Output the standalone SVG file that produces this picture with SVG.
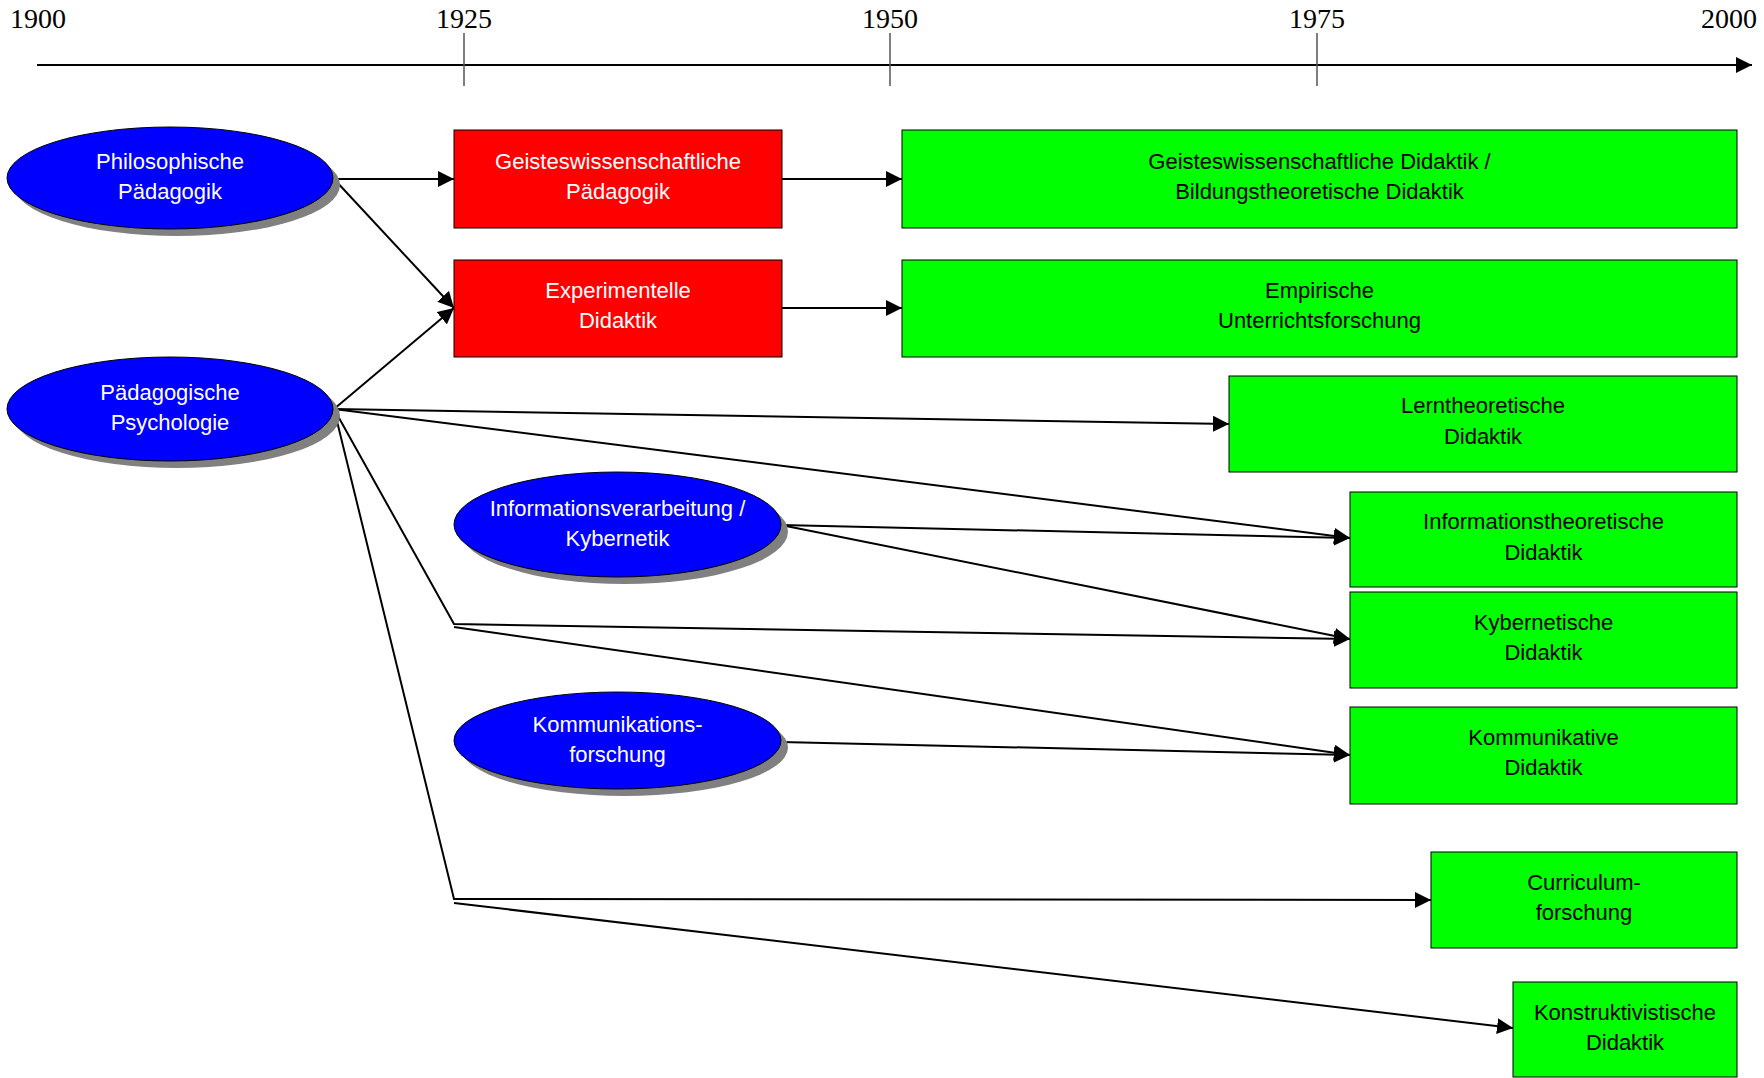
<svg xmlns="http://www.w3.org/2000/svg" width="1764" height="1078" viewBox="0 0 1764 1078">
<defs>
<marker id="arr" markerUnits="userSpaceOnUse" markerWidth="16" markerHeight="16" refX="16" refY="8" orient="auto">
<path d="M0,0 L16,8 L0,16 z" fill="#000"/>
</marker>
<style>
.yr{font-family:"Liberation Serif","Times New Roman",serif;font-size:28px;fill:#000}
.tick{stroke:#555;stroke-width:1.5}
.ell{fill:#0000ff;stroke:#000;stroke-width:1}
.sh{fill:#808080}
.red{fill:#ff0000;stroke:#000;stroke-width:1}
.grn{fill:#00ff00;stroke:#000;stroke-width:1}
.tw{font-family:"Liberation Sans",Arial,sans-serif;font-size:22px;fill:#fff;text-anchor:middle}
.tb{font-family:"Liberation Sans",Arial,sans-serif;font-size:22px;fill:#000;text-anchor:middle}
.c{stroke:#000;stroke-width:2;fill:none}
.ca{stroke:#000;stroke-width:2;fill:none;marker-end:url(#arr)}
</style>
</defs>
<rect width="1764" height="1078" fill="#fff"/>

<g id="timeline">
<line x1="37" y1="65" x2="1752" y2="65" class="ca"/>
<line x1="464" y1="33" x2="464" y2="86" class="tick"/>
<line x1="890" y1="33" x2="890" y2="86" class="tick"/>
<line x1="1317" y1="33" x2="1317" y2="86" class="tick"/>
<text x="10" y="28" class="yr">1900</text>
<text x="464" y="28" class="yr" text-anchor="middle">1925</text>
<text x="890" y="28" class="yr" text-anchor="middle">1950</text>
<text x="1317" y="28" class="yr" text-anchor="middle">1975</text>
<text x="1757" y="28" class="yr" text-anchor="end">2000</text>
</g>

<g id="connectors">
<line x1="334" y1="179" x2="454" y2="179" class="ca"/>
<line x1="334" y1="179" x2="454" y2="308" class="ca"/>
<line x1="334" y1="409" x2="454" y2="308" class="ca"/>
<line x1="782" y1="179" x2="902" y2="179" class="ca"/>
<line x1="782" y1="308" x2="902" y2="308" class="ca"/>
<line x1="334" y1="409" x2="1229" y2="424" class="ca"/>
<line x1="334" y1="409" x2="1350" y2="538" class="ca"/>
<line x1="781" y1="525" x2="1350" y2="538" class="ca"/>
<line x1="781" y1="525" x2="1350" y2="639" class="ca"/>
<polyline points="334,409 454,624 1350,639" class="ca"/>
<line x1="454" y1="627" x2="1350" y2="755" class="ca"/>
<line x1="781" y1="742" x2="1350" y2="755" class="ca"/>
<polyline points="334,409 454,899 1431,900" class="ca"/>
<line x1="454" y1="903" x2="1513" y2="1028" class="ca"/>
</g>

<g id="philosophische-paedagogik">
<ellipse cx="177" cy="185" rx="163" ry="51" class="sh"/>
<ellipse cx="170" cy="178" rx="163" ry="51" class="ell"/>
<text x="170" y="169" class="tw">Philosophische</text>
<text x="170" y="199" class="tw">Pädagogik</text>
</g>

<g id="paedagogische-psychologie">
<ellipse cx="177" cy="416" rx="163" ry="52" class="sh"/>
<ellipse cx="170" cy="409" rx="163" ry="52" class="ell"/>
<text x="170" y="400" class="tw">Pädagogische</text>
<text x="170" y="430" class="tw">Psychologie</text>
</g>

<g id="informationsverarbeitung">
<ellipse cx="624.5" cy="531.5" rx="163.5" ry="52.5" class="sh"/>
<ellipse cx="617.5" cy="524.5" rx="163.5" ry="52.5" class="ell"/>
<text x="617.5" y="516" class="tw">Informationsverarbeitung /</text>
<text x="617.5" y="546" class="tw">Kybernetik</text>
</g>

<g id="kommunikationsforschung">
<ellipse cx="624.5" cy="747.5" rx="163.5" ry="48.5" class="sh"/>
<ellipse cx="617.5" cy="740.5" rx="163.5" ry="48.5" class="ell"/>
<text x="617.5" y="731.5" class="tw">Kommunikations-</text>
<text x="617.5" y="761.5" class="tw">forschung</text>
</g>

<g id="geisteswiss-paedagogik">
<rect x="454" y="130" width="328" height="98" class="red"/>
<text x="618" y="169" class="tw">Geisteswissenschaftliche</text>
<text x="618" y="199" class="tw">Pädagogik</text>
</g>

<g id="experimentelle-didaktik">
<rect x="454" y="260" width="328" height="97" class="red"/>
<text x="618" y="298" class="tw">Experimentelle</text>
<text x="618" y="328" class="tw">Didaktik</text>
</g>

<g id="geisteswiss-didaktik">
<rect x="902" y="130" width="835" height="98" class="grn"/>
<text x="1319.5" y="169" class="tb">Geisteswissenschaftliche Didaktik /</text>
<text x="1319.5" y="199" class="tb">Bildungstheoretische Didaktik</text>
</g>

<g id="empirische-unterrichtsforschung">
<rect x="902" y="260" width="835" height="97" class="grn"/>
<text x="1319.5" y="298" class="tb">Empirische</text>
<text x="1319.5" y="328" class="tb">Unterrichtsforschung</text>
</g>

<g id="lerntheoretische-didaktik">
<rect x="1229" y="376" width="508" height="96" class="grn"/>
<text x="1483" y="413" class="tb">Lerntheoretische</text>
<text x="1483" y="444" class="tb">Didaktik</text>
</g>

<g id="informationstheoretische-didaktik">
<rect x="1350" y="492" width="387" height="95" class="grn"/>
<text x="1543.5" y="529" class="tb">Informationstheoretische</text>
<text x="1543.5" y="560" class="tb">Didaktik</text>
</g>

<g id="kybernetische-didaktik">
<rect x="1350" y="592" width="387" height="96" class="grn"/>
<text x="1543.5" y="630" class="tb">Kybernetische</text>
<text x="1543.5" y="660" class="tb">Didaktik</text>
</g>

<g id="kommunikative-didaktik">
<rect x="1350" y="707" width="387" height="97" class="grn"/>
<text x="1543.5" y="745" class="tb">Kommunikative</text>
<text x="1543.5" y="775" class="tb">Didaktik</text>
</g>

<g id="curriculumforschung">
<rect x="1431" y="852" width="306" height="96" class="grn"/>
<text x="1584" y="890" class="tb">Curriculum-</text>
<text x="1584" y="920" class="tb">forschung</text>
</g>

<g id="konstruktivistische-didaktik">
<rect x="1513" y="982" width="224" height="95" class="grn"/>
<text x="1625" y="1020" class="tb">Konstruktivistische</text>
<text x="1625" y="1050" class="tb">Didaktik</text>
</g>
</svg>
